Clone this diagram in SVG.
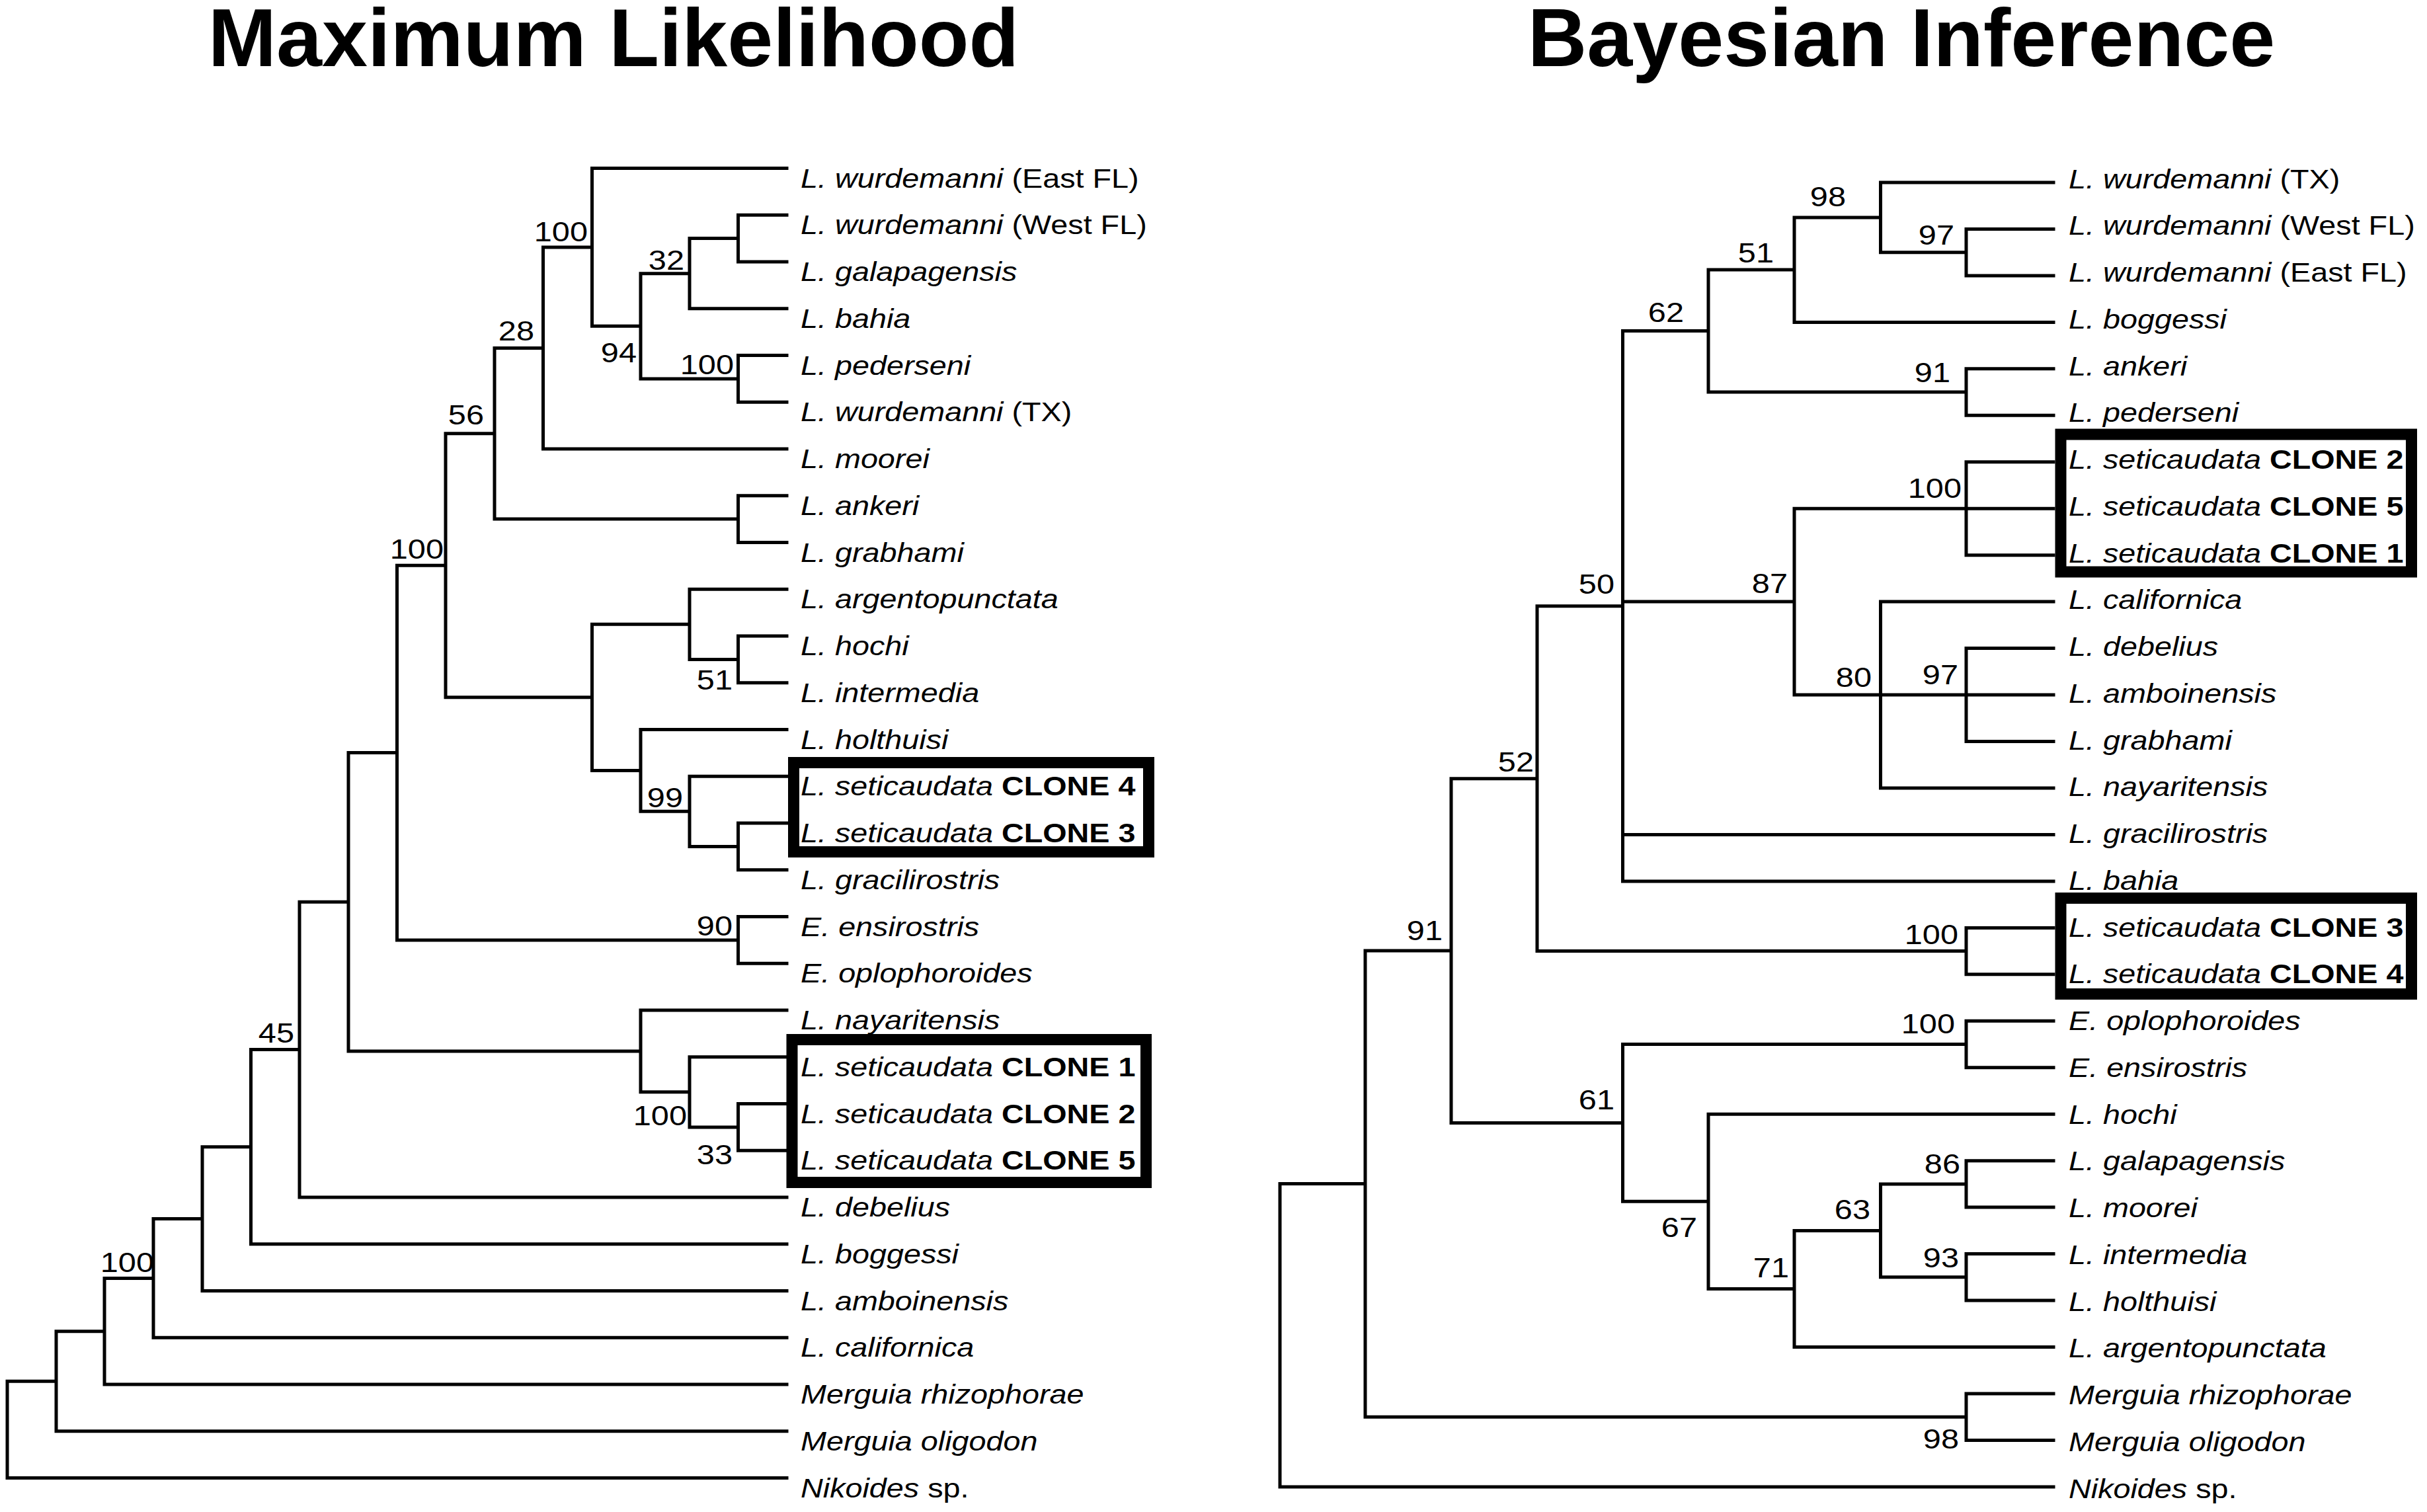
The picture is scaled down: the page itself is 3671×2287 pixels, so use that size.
<svg xmlns="http://www.w3.org/2000/svg" width="3671" height="2287" viewBox="0 0 3671 2287">
<style>
.br{fill:none;stroke:#000;stroke-width:5;stroke-linecap:square}
.box{fill:none;stroke:#000;stroke-width:17}
text{font-family:"Liberation Sans",Arial,Helvetica,sans-serif;fill:#000}
.lf{font-size:41px;font-style:italic}
.up{font-style:normal}
.b{font-style:normal;font-weight:bold}
.num{font-size:42px;text-anchor:end}
.title{font-size:124px;font-weight:bold;text-anchor:middle}
</style>
<rect width="3671" height="2287" fill="#fff"/>
<g id="titles">
<text class="title" x="928" y="100">Maximum Likelihood</text>
<text class="title" x="2876" y="100">Bayesian Inference</text>
</g>
<g id="connectors">
<path id="ml-branches" class="br" d="M11 2089.3V2235.5M85 2013.7V2164.8M158 1933.5V2094M232 1843.6V2023.3M306 1734.7V1952.5M379.5 1587.6V1881.8M453 1364.3V1811M527 1138.6V1589.9M600.5 855.3V1421.9M674 655.8V1054.8M748 526.5V785.1M821.5 373.9V679M895.5 254.5V493.3M969 413.7V572.9M1043 360.6V466.8M1116.5 325.3V396M1116.5 537.5V608.3M1116.5 749.8V820.5M895.5 944.3V1165.4M1043 891.3V997.4M1116.5 962V1032.8M969 1103.5V1227.3M1043 1174.3V1280.4M1116.5 1245V1315.8M1116.5 1386.5V1457.3M969 1528V1651.8M1043 1598.8V1704.9M1116.5 1669.5V1740.3
M11 2235.5H1190M11 2089.3H85M85 2164.8H1190M85 2013.7H158M158 2094H1190M158 1933.5H232M232 2023.3H1190M232 1843.6H306M306 1952.5H1190M306 1734.7H379.5M379.5 1881.8H1190M379.5 1587.6H453M453 1811H1190M453 1364.3H527M527 1589.9H969M969 1528H1190M969 1651.8H1043M1043 1598.8H1190M1043 1704.9H1116.5M1116.5 1669.5H1190M1116.5 1740.3H1190M527 1138.6H600.5M600.5 1421.9H1116.5M1116.5 1386.5H1190M1116.5 1457.3H1190M600.5 855.3H674M674 1054.8H895.5M895.5 944.3H1043M1043 891.3H1190M1043 997.4H1116.5M1116.5 962H1190M1116.5 1032.8H1190M895.5 1165.4H969M969 1103.5H1190M969 1227.3H1043M1043 1174.3H1190M1043 1280.4H1116.5M1116.5 1245H1190M1116.5 1315.8H1190M674 655.8H748M748 785.1H1116.5M1116.5 749.8H1190M1116.5 820.5H1190M748 526.5H821.5M821.5 679H1190M821.5 373.9H895.5M895.5 254.5H1190M895.5 493.3H969M969 413.7H1043M1043 466.8H1190M1043 360.6H1116.5M1116.5 325.3H1190M1116.5 396H1190M969 572.9H1116.5M1116.5 537.5H1190M1116.5 608.3H1190"/>
<path id="bi-branches" class="br" d="M1936 1790.6V2248.9M2065 1438V2143.2M2195 1177.7V1698.4M2325 916.8V1438.6M2454.5 500.6V1332.9M2584 408.1V593.1M2714 328.9V487.4M2844.5 276V381.7M2974 346.5V416.9M2974 557.8V628.3M2714 769.2V1051.1M2974 698.8V839.7M2844.5 910.1V1192M2974 980.6V1121.5M2974 1403.4V1473.8M2454.5 1579.5V1817.3M2974 1544.3V1614.7M2584 1685.2V1949.4M2714 1861.4V2037.5M2844.5 1790.9V1931.8M2974 1755.7V1826.1M2974 1896.6V1967M2974 2108V2178.4
M1936 1790.6H2065M1936 2248.9H3106M2065 1438H2195M2065 2143.2H2974M2974 2108H3106M2974 2178.4H3106M2195 1177.7H2325M2195 1698.4H2454.5M2325 916.8H2454.5M2325 1438.6H2974M2974 1403.4H3106M2974 1473.8H3106M2454.5 500.6H2584M2454.5 910.1H2714M2454.5 1262.4H3106M2454.5 1332.9H3106M2584 408.1H2714M2584 593.1H2974M2974 557.8H3106M2974 628.3H3106M2714 328.9H2844.5M2714 487.4H3106M2844.5 276H3106M2844.5 381.7H2974M2974 346.5H3106M2974 416.9H3106M2714 769.2H3106M2974 698.8H3106M2974 839.7H3106M2714 1051.1H3106M2844.5 910.1H3106M2974 980.6H3106M2974 1121.5H3106M2844.5 1192H3106M2454.5 1579.5H2974M2974 1544.3H3106M2974 1614.7H3106M2454.5 1817.3H2584M2584 1685.2H3106M2584 1949.4H2714M2714 2037.5H3106M2714 1861.4H2844.5M2844.5 1790.9H2974M2974 1755.7H3106M2974 1826.1H3106M2844.5 1931.8H2974M2974 1896.6H3106M2974 1967H3106"/>
</g>
<g id="highlight-boxes">
<rect id="ml-box-clones-4-3" class="box" x="1200.5" y="1153.5" width="537" height="135"/>
<rect id="ml-box-clones-1-2-5" class="box" x="1198" y="1572.5" width="535.5" height="216"/>
<rect id="bi-box-clones-2-5-1" class="box" x="3117" y="657" width="530.5" height="208"/>
<rect id="bi-box-clones-3-4" class="box" x="3117" y="1358.5" width="530.5" height="145"/>
</g>
<g id="ml-support">
<text class="num" transform="matrix(1.16 0 0 1 889 365)">100</text>
<text class="num" transform="matrix(1.16 0 0 1 808 515)">28</text>
<text class="num" transform="matrix(1.16 0 0 1 732 642)">56</text>
<text class="num" transform="matrix(1.16 0 0 1 671 845)">100</text>
<text class="num" transform="matrix(1.16 0 0 1 963 548)">94</text>
<text class="num" transform="matrix(1.16 0 0 1 1035 408)">32</text>
<text class="num" transform="matrix(1.16 0 0 1 1110 566)">100</text>
<text class="num" transform="matrix(1.16 0 0 1 1108 1043)">51</text>
<text class="num" transform="matrix(1.16 0 0 1 1033 1221)">99</text>
<text class="num" transform="matrix(1.16 0 0 1 1108 1415)">90</text>
<text class="num" transform="matrix(1.16 0 0 1 1039 1702)">100</text>
<text class="num" transform="matrix(1.16 0 0 1 1108 1761)">33</text>
<text class="num" transform="matrix(1.16 0 0 1 445 1577)">45</text>
<text class="num" transform="matrix(1.16 0 0 1 233 1924)">100</text>
</g>
<g id="bi-support">
<text class="num" transform="matrix(1.16 0 0 1 2792 312)">98</text>
<text class="num" transform="matrix(1.16 0 0 1 2956 370)">97</text>
<text class="num" transform="matrix(1.16 0 0 1 2683 397)">51</text>
<text class="num" transform="matrix(1.16 0 0 1 2547 487)">62</text>
<text class="num" transform="matrix(1.16 0 0 1 2950 578)">91</text>
<text class="num" transform="matrix(1.16 0 0 1 2967 753)">100</text>
<text class="num" transform="matrix(1.16 0 0 1 2442 898)">50</text>
<text class="num" transform="matrix(1.16 0 0 1 2704 897)">87</text>
<text class="num" transform="matrix(1.16 0 0 1 2831 1039)">80</text>
<text class="num" transform="matrix(1.16 0 0 1 2962 1035)">97</text>
<text class="num" transform="matrix(1.16 0 0 1 2320 1167)">52</text>
<text class="num" transform="matrix(1.16 0 0 1 2182 1422)">91</text>
<text class="num" transform="matrix(1.16 0 0 1 2962 1428)">100</text>
<text class="num" transform="matrix(1.16 0 0 1 2957 1563)">100</text>
<text class="num" transform="matrix(1.16 0 0 1 2442 1678)">61</text>
<text class="num" transform="matrix(1.16 0 0 1 2965 1775)">86</text>
<text class="num" transform="matrix(1.16 0 0 1 2829 1844)">63</text>
<text class="num" transform="matrix(1.16 0 0 1 2567 1871)">67</text>
<text class="num" transform="matrix(1.16 0 0 1 2963 1917)">93</text>
<text class="num" transform="matrix(1.16 0 0 1 2706 1932)">71</text>
<text class="num" transform="matrix(1.16 0 0 1 2963 2191)">98</text>
</g>
<g id="ml-taxa">
<g id="ml-t00"><text class="lf" transform="matrix(1.14 0 0 1 1211 283.5)">L. wurdemanni<tspan class="up"> (East FL)</tspan></text></g>
<g id="ml-t01"><text class="lf" transform="matrix(1.14 0 0 1 1211 354.3)">L. wurdemanni<tspan class="up"> (West FL)</tspan></text></g>
<g id="ml-t02"><text class="lf" transform="matrix(1.14 0 0 1 1211 425)">L. galapagensis</text></g>
<g id="ml-t03"><text class="lf" transform="matrix(1.14 0 0 1 1211 495.8)">L. bahia</text></g>
<g id="ml-t04"><text class="lf" transform="matrix(1.14 0 0 1 1211 566.5)">L. pederseni</text></g>
<g id="ml-t05"><text class="lf" transform="matrix(1.14 0 0 1 1211 637.3)">L. wurdemanni<tspan class="up"> (TX)</tspan></text></g>
<g id="ml-t06"><text class="lf" transform="matrix(1.14 0 0 1 1211 708)">L. moorei</text></g>
<g id="ml-t07"><text class="lf" transform="matrix(1.14 0 0 1 1211 778.8)">L. ankeri</text></g>
<g id="ml-t08"><text class="lf" transform="matrix(1.14 0 0 1 1211 849.5)">L. grabhami</text></g>
<g id="ml-t09"><text class="lf" transform="matrix(1.14 0 0 1 1211 920.3)">L. argentopunctata</text></g>
<g id="ml-t10"><text class="lf" transform="matrix(1.14 0 0 1 1211 991)">L. hochi</text></g>
<g id="ml-t11"><text class="lf" transform="matrix(1.14 0 0 1 1211 1061.8)">L. intermedia</text></g>
<g id="ml-t12"><text class="lf" transform="matrix(1.14 0 0 1 1211 1132.5)">L. holthuisi</text></g>
<g id="ml-t13"><text class="lf" transform="matrix(1.14 0 0 1 1211 1203.3)">L. seticaudata <tspan class="b">CLONE 4</tspan></text></g>
<g id="ml-t14"><text class="lf" transform="matrix(1.14 0 0 1 1211 1274)">L. seticaudata <tspan class="b">CLONE 3</tspan></text></g>
<g id="ml-t15"><text class="lf" transform="matrix(1.14 0 0 1 1211 1344.8)">L. gracilirostris</text></g>
<g id="ml-t16"><text class="lf" transform="matrix(1.14 0 0 1 1211 1415.5)">E. ensirostris</text></g>
<g id="ml-t17"><text class="lf" transform="matrix(1.14 0 0 1 1211 1486.3)">E. oplophoroides</text></g>
<g id="ml-t18"><text class="lf" transform="matrix(1.14 0 0 1 1211 1557)">L. nayaritensis</text></g>
<g id="ml-t19"><text class="lf" transform="matrix(1.14 0 0 1 1211 1627.8)">L. seticaudata <tspan class="b">CLONE 1</tspan></text></g>
<g id="ml-t20"><text class="lf" transform="matrix(1.14 0 0 1 1211 1698.5)">L. seticaudata <tspan class="b">CLONE 2</tspan></text></g>
<g id="ml-t21"><text class="lf" transform="matrix(1.14 0 0 1 1211 1769.3)">L. seticaudata <tspan class="b">CLONE 5</tspan></text></g>
<g id="ml-t22"><text class="lf" transform="matrix(1.14 0 0 1 1211 1840)">L. debelius</text></g>
<g id="ml-t23"><text class="lf" transform="matrix(1.14 0 0 1 1211 1910.8)">L. boggessi</text></g>
<g id="ml-t24"><text class="lf" transform="matrix(1.14 0 0 1 1211 1981.5)">L. amboinensis</text></g>
<g id="ml-t25"><text class="lf" transform="matrix(1.14 0 0 1 1211 2052.3)">L. californica</text></g>
<g id="ml-t26"><text class="lf" transform="matrix(1.14 0 0 1 1211 2123)">Merguia rhizophorae</text></g>
<g id="ml-t27"><text class="lf" transform="matrix(1.14 0 0 1 1211 2193.8)">Merguia oligodon</text></g>
<g id="ml-t28"><text class="lf" transform="matrix(1.14 0 0 1 1211 2264.5)">Nikoides<tspan class="up"> sp.</tspan></text></g>
</g>
<g id="bi-taxa">
<g id="bi-t00"><text class="lf" transform="matrix(1.14 0 0 1 3129 284.5)">L. wurdemanni<tspan class="up"> (TX)</tspan></text></g>
<g id="bi-t01"><text class="lf" transform="matrix(1.14 0 0 1 3129 355.3)">L. wurdemanni<tspan class="up"> (West FL)</tspan></text></g>
<g id="bi-t02"><text class="lf" transform="matrix(1.14 0 0 1 3129 426)">L. wurdemanni<tspan class="up"> (East FL)</tspan></text></g>
<g id="bi-t03"><text class="lf" transform="matrix(1.14 0 0 1 3129 496.8)">L. boggessi</text></g>
<g id="bi-t04"><text class="lf" transform="matrix(1.14 0 0 1 3129 567.5)">L. ankeri</text></g>
<g id="bi-t05"><text class="lf" transform="matrix(1.14 0 0 1 3129 638.3)">L. pederseni</text></g>
<g id="bi-t06"><text class="lf" transform="matrix(1.14 0 0 1 3129 709)">L. seticaudata <tspan class="b">CLONE 2</tspan></text></g>
<g id="bi-t07"><text class="lf" transform="matrix(1.14 0 0 1 3129 779.8)">L. seticaudata <tspan class="b">CLONE 5</tspan></text></g>
<g id="bi-t08"><text class="lf" transform="matrix(1.14 0 0 1 3129 850.5)">L. seticaudata <tspan class="b">CLONE 1</tspan></text></g>
<g id="bi-t09"><text class="lf" transform="matrix(1.14 0 0 1 3129 921.3)">L. californica</text></g>
<g id="bi-t10"><text class="lf" transform="matrix(1.14 0 0 1 3129 992)">L. debelius</text></g>
<g id="bi-t11"><text class="lf" transform="matrix(1.14 0 0 1 3129 1062.8)">L. amboinensis</text></g>
<g id="bi-t12"><text class="lf" transform="matrix(1.14 0 0 1 3129 1133.5)">L. grabhami</text></g>
<g id="bi-t13"><text class="lf" transform="matrix(1.14 0 0 1 3129 1204.3)">L. nayaritensis</text></g>
<g id="bi-t14"><text class="lf" transform="matrix(1.14 0 0 1 3129 1275)">L. gracilirostris</text></g>
<g id="bi-t15"><text class="lf" transform="matrix(1.14 0 0 1 3129 1345.8)">L. bahia</text></g>
<g id="bi-t16"><text class="lf" transform="matrix(1.14 0 0 1 3129 1416.5)">L. seticaudata <tspan class="b">CLONE 3</tspan></text></g>
<g id="bi-t17"><text class="lf" transform="matrix(1.14 0 0 1 3129 1487.3)">L. seticaudata <tspan class="b">CLONE 4</tspan></text></g>
<g id="bi-t18"><text class="lf" transform="matrix(1.14 0 0 1 3129 1558)">E. oplophoroides</text></g>
<g id="bi-t19"><text class="lf" transform="matrix(1.14 0 0 1 3129 1628.8)">E. ensirostris</text></g>
<g id="bi-t20"><text class="lf" transform="matrix(1.14 0 0 1 3129 1699.5)">L. hochi</text></g>
<g id="bi-t21"><text class="lf" transform="matrix(1.14 0 0 1 3129 1770.3)">L. galapagensis</text></g>
<g id="bi-t22"><text class="lf" transform="matrix(1.14 0 0 1 3129 1841)">L. moorei</text></g>
<g id="bi-t23"><text class="lf" transform="matrix(1.14 0 0 1 3129 1911.8)">L. intermedia</text></g>
<g id="bi-t24"><text class="lf" transform="matrix(1.14 0 0 1 3129 1982.5)">L. holthuisi</text></g>
<g id="bi-t25"><text class="lf" transform="matrix(1.14 0 0 1 3129 2053.3)">L. argentopunctata</text></g>
<g id="bi-t26"><text class="lf" transform="matrix(1.14 0 0 1 3129 2124)">Merguia rhizophorae</text></g>
<g id="bi-t27"><text class="lf" transform="matrix(1.14 0 0 1 3129 2194.8)">Merguia oligodon</text></g>
<g id="bi-t28"><text class="lf" transform="matrix(1.14 0 0 1 3129 2265.5)">Nikoides<tspan class="up"> sp.</tspan></text></g>
</g>
</svg>
